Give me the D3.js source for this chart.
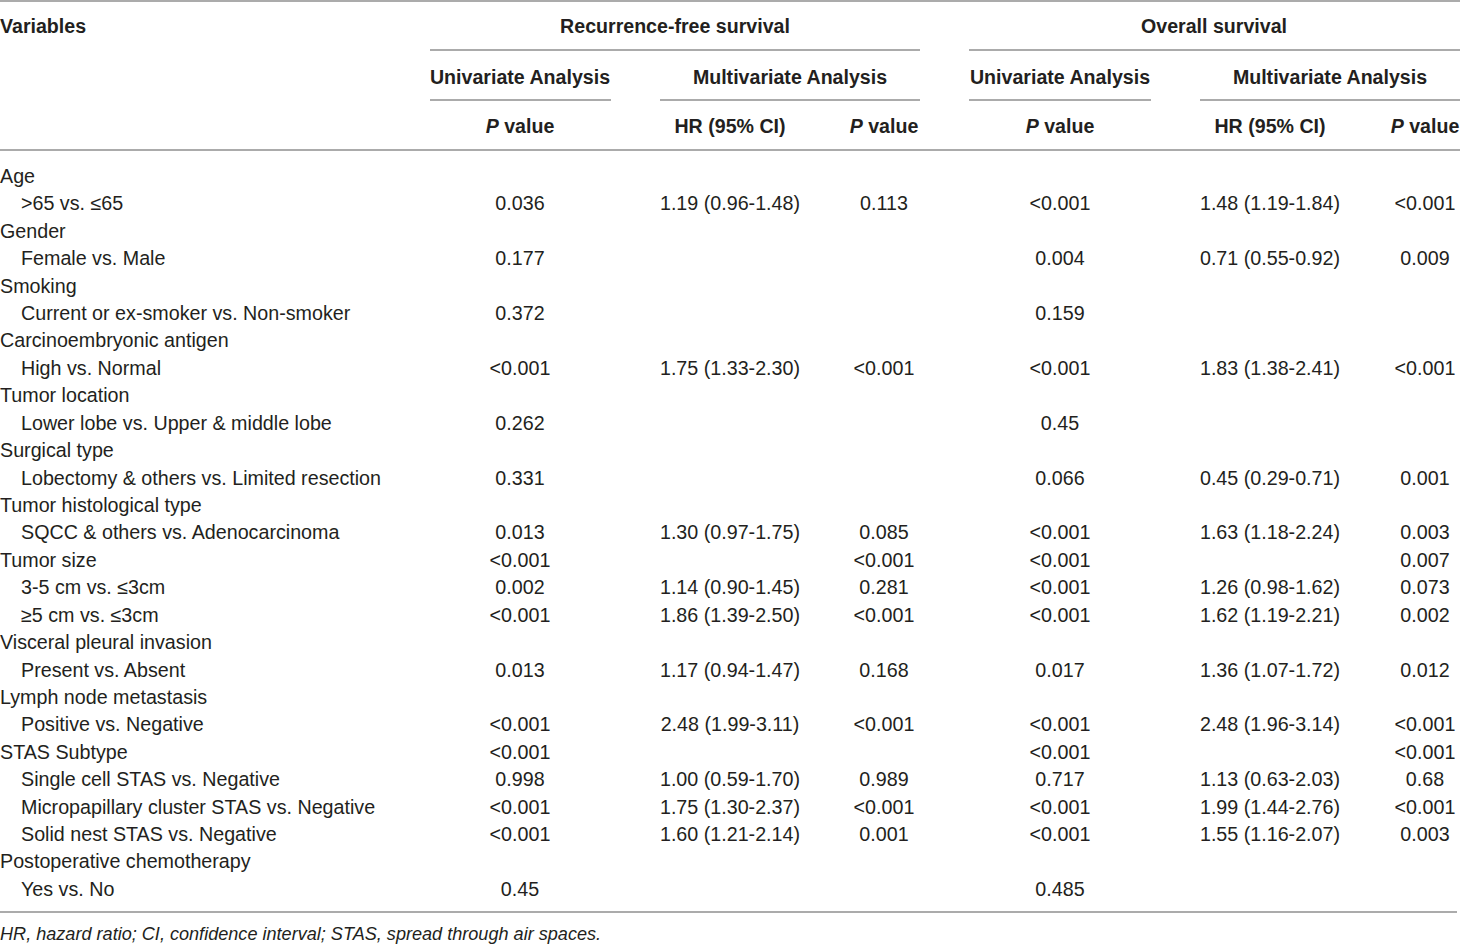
<!DOCTYPE html>
<html>
<head>
<meta charset="utf-8">
<script src="https://cdn.jsdelivr.net/npm/d3@7"></script>
<style>
  body { margin: 0; background: #fff; }
  text { font-family: "Liberation Sans", Arial, sans-serif; fill: #231f20; }
</style>
</head>
<body>
<div id="table"></div>
<script>
var labels = [
  'Age', '>65 vs. \u226465',
  'Gender', 'Female vs. Male',
  'Smoking', 'Current or ex-smoker vs. Non-smoker',
  'Carcinoembryonic antigen', 'High vs. Normal',
  'Tumor location', 'Lower lobe vs. Upper & middle lobe',
  'Surgical type', 'Lobectomy & others vs. Limited resection',
  'Tumor histological type', 'SQCC & others vs. Adenocarcinoma',
  'Tumor size', '3-5 cm vs. \u22643cm', '\u22655 cm vs. \u22643cm',
  'Visceral pleural invasion', 'Present vs. Absent',
  'Lymph node metastasis', 'Positive vs. Negative',
  'STAS Subtype', 'Single cell STAS vs. Negative',
  'Micropapillary cluster STAS vs. Negative', 'Solid nest STAS vs. Negative',
  'Postoperative chemotherapy', 'Yes vs. No'
];
var isSub = [0,1, 0,1, 0,1, 0,1, 0,1, 0,1, 0,1, 0,1,1, 0,1, 0,1, 0,1,1,1, 0,1];

var rfsUni = ['', '0.036', '', '0.177', '', '0.372', '', '<0.001', '', '0.262', '', '0.331',
  '', '0.013', '<0.001', '0.002', '<0.001', '', '0.013', '', '<0.001', '<0.001', '0.998',
  '<0.001', '<0.001', '', '0.45'];
var rfsHR = ['', '1.19 (0.96-1.48)', '', '', '', '', '', '1.75 (1.33-2.30)', '', '', '', '',
  '', '1.30 (0.97-1.75)', '', '1.14 (0.90-1.45)', '1.86 (1.39-2.50)', '', '1.17 (0.94-1.47)',
  '', '2.48 (1.99-3.11)', '', '1.00 (0.59-1.70)', '1.75 (1.30-2.37)', '1.60 (1.21-2.14)', '', ''];
var rfsP = ['', '0.113', '', '', '', '', '', '<0.001', '', '', '', '',
  '', '0.085', '<0.001', '0.281', '<0.001', '', '0.168', '', '<0.001', '', '0.989',
  '<0.001', '0.001', '', ''];
var osUni = ['', '<0.001', '', '0.004', '', '0.159', '', '<0.001', '', '0.45', '', '0.066',
  '', '<0.001', '<0.001', '<0.001', '<0.001', '', '0.017', '', '<0.001', '<0.001', '0.717',
  '<0.001', '<0.001', '', '0.485'];
var osHR = ['', '1.48 (1.19-1.84)', '', '0.71 (0.55-0.92)', '', '', '', '1.83 (1.38-2.41)', '', '', '',
  '0.45 (0.29-0.71)', '', '1.63 (1.18-2.24)', '', '1.26 (0.98-1.62)', '1.62 (1.19-2.21)', '',
  '1.36 (1.07-1.72)', '', '2.48 (1.96-3.14)', '', '1.13 (0.63-2.03)', '1.99 (1.44-2.76)',
  '1.55 (1.16-2.07)', '', ''];
var osP = ['', '<0.001', '', '0.009', '', '', '', '<0.001', '', '', '', '0.001',
  '', '0.003', '0.007', '0.073', '0.002', '', '0.012', '', '<0.001', '<0.001', '0.68',
  '<0.001', '0.003', '', ''];

var columnKeys = ['rfsUni', 'rfsHR', 'rfsP', 'osUni', 'osHR', 'osP'];
var columnData = [rfsUni, rfsHR, rfsP, osUni, osHR, osP];
var columnHeads = ['P value', 'HR (95% CI)', 'P value', 'P value', 'HR (95% CI)', 'P value'];
var groupHeads = ['Recurrence-free survival', 'Overall survival'];
var analysisHeads = ['Univariate Analysis', 'Multivariate Analysis', 'Univariate Analysis', 'Multivariate Analysis'];
var footnote = 'HR, hazard ratio; CI, confidence interval; STAS, spread through air spaces.';

var width = 1460, height = 944;
var lineColor = '#8f8f8f';

var svg = d3.select('#table')
  .append('svg')
    .attr('width', width)
    .attr('height', height);

// column centres
var x = d3.scaleOrdinal()
  .domain(columnKeys)
  .range([520, 730, 884, 1060, 1270, 1425]);

var y = d3.scalePoint()
  .domain(d3.range(labels.length))
  .range([176, 889]);

// horizontal rules
var rules = [
  { x1: 0, x2: 1460, y: 1 },
  { x1: 430, x2: 920, y: 50 },
  { x1: 969, x2: 1460, y: 50 },
  { x1: 430, x2: 611, y: 100 },
  { x1: 660, x2: 920, y: 100 },
  { x1: 969, x2: 1151, y: 100 },
  { x1: 1200, x2: 1460, y: 100 },
  { x1: 0, x2: 1460, y: 150 },
  { x1: 0, x2: 1457, y: 912 }
];
svg.selectAll('line.rule')
  .data(rules)
  .enter().append('line')
    .classed('rule', true)
    .attr('x1', function (d) { return d.x1; })
    .attr('x2', function (d) { return d.x2; })
    .attr('y1', function (d) { return d.y; })
    .attr('y2', function (d) { return d.y; })
    .style('stroke', lineColor)
    .style('stroke-width', 1.5);

var bold = { 'font-size': '19.6px', 'font-weight': 'bold' };

function applyStyle(sel, st) {
  Object.keys(st).forEach(function (k) { sel.style(k, st[k]); });
  return sel;
}

// header: Variables
applyStyle(svg.append('text')
  .attr('x', 0)
  .attr('y', 26)
  .attr('dy', '0.35em')
  .text('Variables'), bold);

applyStyle(svg.selectAll('text.group')
  .data(groupHeads)
  .enter().append('text')
    .classed('group', true)
    .attr('x', function (d, i) { return [675, 1214][i]; })
    .attr('y', 26)
    .attr('dy', '0.35em')
    .attr('text-anchor', 'middle')
    .text(function (d) { return d; }), bold);

applyStyle(svg.selectAll('text.analysis')
  .data(analysisHeads)
  .enter().append('text')
    .classed('analysis', true)
    .attr('x', function (d, i) { return [520, 790, 1060, 1330][i]; })
    .attr('y', 77)
    .attr('dy', '0.35em')
    .attr('text-anchor', 'middle')
    .text(function (d) { return d; }), bold);

var heads = applyStyle(svg.selectAll('text.colhead')
  .data(columnHeads)
  .enter().append('text')
    .classed('colhead', true)
    .attr('x', function (d, i) { return x(columnKeys[i]); })
    .attr('y', 126)
    .attr('dy', '0.35em')
    .attr('text-anchor', 'middle'), bold);

heads.each(function (d) {
  var t = d3.select(this);
  if (d.indexOf('P ') === 0) {
    t.append('tspan').style('font-style', 'italic').text('P');
    t.append('tspan').text(d.slice(1));
  } else {
    t.text(d);
  }
});

// body rows
var rowStyle = { 'font-size': '19.7px' };

var rows = svg.selectAll('g.row')
  .data(labels)
  .enter().append('g')
    .classed('row', true)
    .attr('transform', function (d, i) { return 'translate(0,' + y(i) + ')'; });

applyStyle(rows.append('text')
  .attr('x', function (d, i) { return isSub[i] ? 21 : 0; })
  .attr('dy', '0.35em')
  .text(function (d) { return d; }), rowStyle);

columnKeys.forEach(function (key, c) {
  applyStyle(rows.append('text')
    .attr('x', x(key))
    .attr('dy', '0.35em')
    .attr('text-anchor', 'middle')
    .text(function (d, i) { return columnData[c][i]; }), rowStyle);
});

// footnote
svg.append('text')
  .attr('x', 0)
  .attr('y', 934)
  .attr('dy', '0.35em')
  .style('font-style', 'italic')
  .style('font-size', '18.1px')
  .text(footnote);
</script>
</body>
</html>
